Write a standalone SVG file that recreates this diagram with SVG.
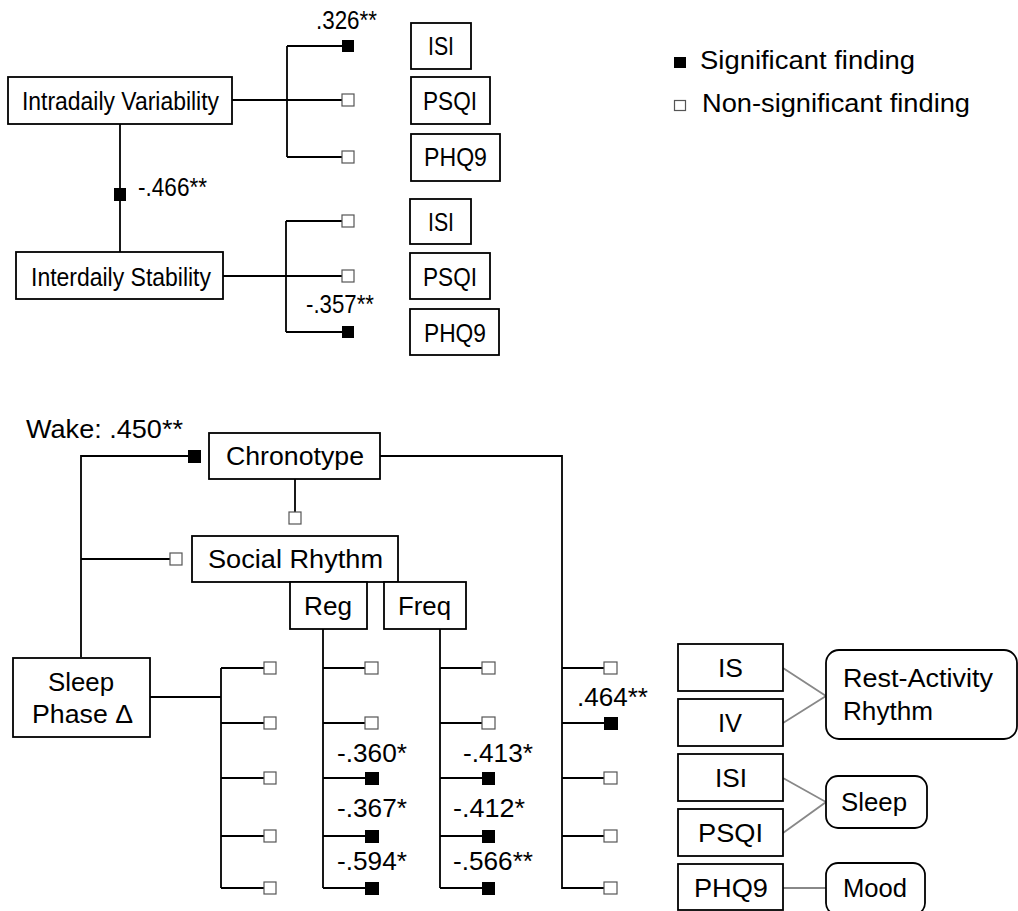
<svg xmlns="http://www.w3.org/2000/svg" width="1018" height="911" viewBox="0 0 1018 911">
<style>
text{font-family:"Liberation Sans",Arial,sans-serif;font-size:25px;fill:#000}
.box{fill:#fff;stroke:#000;stroke-width:1.8}
.rbox{fill:#fff;stroke:#000;stroke-width:1.8}
.ln{fill:none;stroke:#000;stroke-width:1.8}
.gl{fill:none;stroke:#888;stroke-width:1.8}
.sf{fill:#000;stroke:none}
.so{fill:#fff;stroke:#555;stroke-width:1.2}
</style>
<rect width="1018" height="911" fill="#fff"/>

<g id="connectors">
  <path class="ln" d="M232,100H342M287,46V157M287,46H342M287,157H342"/>
  <path class="ln" d="M120,124V252"/>
  <path class="ln" d="M223,276H342M286,221V332M286,221H342M286,332H342"/>
  <path class="ln" d="M81,657V456H188M81,559H170"/>
  <path class="ln" d="M295,479V512"/>
  <path class="ln" d="M380,456H562V888H604M562,668H604M562,723H604M562,778H604M562,836H604"/>
  <path class="ln" d="M150,697H221M221,668V888M221,668H264M221,723H264M221,778H264M221,836H264M221,888H264"/>
  <path class="ln" d="M323,629V888M323,668H365M323,723H365M323,778H365M323,836H365M323,888H365"/>
  <path class="ln" d="M440,629V888M440,668H482M440,723H482M440,778H482M440,836H482M440,888H482"/>
  <path class="gl" d="M783,668L826,696L783,723M783,778L826,802L783,833M783,888H826"/>
</g>

<g id="markers">
  <rect class="sf" x="342" y="40" width="12" height="12"/>
  <rect class="so" x="342" y="94" width="12" height="12"/>
  <rect class="so" x="342" y="151" width="12" height="12"/>
  <rect class="sf" x="114" y="188" width="12" height="13"/>
  <rect class="so" x="342" y="215" width="12" height="12"/>
  <rect class="so" x="342" y="270" width="12" height="12"/>
  <rect class="sf" x="342" y="326" width="12" height="12"/>

  <rect class="sf" x="188" y="450" width="13" height="13"/>
  <rect class="so" x="289" y="512" width="12" height="12"/>
  <rect class="so" x="170" y="553" width="12" height="12"/>

  <rect class="so" x="264" y="662" width="12" height="12"/>
  <rect class="so" x="264" y="717" width="12" height="12"/>
  <rect class="so" x="264" y="772" width="12" height="12"/>
  <rect class="so" x="264" y="830" width="12" height="12"/>
  <rect class="so" x="264" y="882" width="12" height="12"/>

  <rect class="so" x="365" y="662" width="13" height="12"/>
  <rect class="so" x="365" y="717" width="13" height="12"/>
  <rect class="sf" x="365" y="772" width="14" height="13"/>
  <rect class="sf" x="365" y="830" width="14" height="13"/>
  <rect class="sf" x="365" y="882" width="14" height="13"/>

  <rect class="so" x="482" y="662" width="13" height="12"/>
  <rect class="so" x="482" y="717" width="13" height="12"/>
  <rect class="sf" x="482" y="772" width="13" height="13"/>
  <rect class="sf" x="482" y="830" width="13" height="13"/>
  <rect class="sf" x="482" y="882" width="13" height="13"/>

  <rect class="so" x="604" y="662" width="13" height="12"/>
  <rect class="sf" x="604" y="717" width="14" height="13"/>
  <rect class="so" x="604" y="772" width="13" height="12"/>
  <rect class="so" x="604" y="830" width="13" height="12"/>
  <rect class="so" x="604" y="882" width="13" height="12"/>
</g>

<g id="labels">
  <text x="316" y="29" textLength="61" lengthAdjust="spacingAndGlyphs">.326**</text>
  <text x="138" y="196" textLength="69" lengthAdjust="spacingAndGlyphs">-.466**</text>
  <text x="306" y="313" textLength="68" lengthAdjust="spacingAndGlyphs">-.357**</text>
  <text x="26" y="438" textLength="157" lengthAdjust="spacingAndGlyphs">Wake: .450**</text>
  <text x="337" y="762" textLength="70" lengthAdjust="spacingAndGlyphs">-.360*</text>
  <text x="337" y="817" textLength="70" lengthAdjust="spacingAndGlyphs">-.367*</text>
  <text x="337" y="870" textLength="70" lengthAdjust="spacingAndGlyphs">-.594*</text>
  <text x="463" y="762" textLength="70" lengthAdjust="spacingAndGlyphs">-.413*</text>
  <text x="453" y="817" textLength="72" lengthAdjust="spacingAndGlyphs">-.412*</text>
  <text x="453" y="870" textLength="80" lengthAdjust="spacingAndGlyphs">-.566**</text>
  <text x="577" y="706" textLength="71" lengthAdjust="spacingAndGlyphs">.464**</text>
</g>

<g id="legend">
  <rect class="sf" x="674" y="57" width="12" height="11"/>
  <text x="700" y="69" textLength="215" lengthAdjust="spacingAndGlyphs">Significant finding</text>
  <rect class="so" x="674.5" y="100.5" width="11" height="10"/>
  <text x="702" y="112" textLength="268" lengthAdjust="spacingAndGlyphs">Non-significant finding</text>
</g>

<g id="node-iv">
  <rect class="box" x="8" y="77" width="224" height="47"/>
  <text x="22" y="110" textLength="197" lengthAdjust="spacingAndGlyphs">Intradaily Variability</text>
</g>
<g id="node-is">
  <rect class="box" x="16" y="252" width="207" height="47"/>
  <text x="31" y="286" textLength="180" lengthAdjust="spacingAndGlyphs">Interdaily Stability</text>
</g>
<g id="node-isi-1">
  <rect class="box" x="411" y="23" width="60" height="46"/>
  <text x="428" y="55" textLength="26" lengthAdjust="spacingAndGlyphs">ISI</text>
</g>
<g id="node-psqi-1">
  <rect class="box" x="411" y="77" width="79" height="47"/>
  <text x="423" y="110" textLength="54" lengthAdjust="spacingAndGlyphs">PSQI</text>
</g>
<g id="node-phq9-1">
  <rect class="box" x="411" y="134" width="89" height="47"/>
  <text x="424" y="166" textLength="63" lengthAdjust="spacingAndGlyphs">PHQ9</text>
</g>
<g id="node-isi-2">
  <rect class="box" x="410" y="199" width="61" height="45"/>
  <text x="428" y="231" textLength="26" lengthAdjust="spacingAndGlyphs">ISI</text>
</g>
<g id="node-psqi-2">
  <rect class="box" x="410" y="253" width="80" height="46"/>
  <text x="423" y="286" textLength="54" lengthAdjust="spacingAndGlyphs">PSQI</text>
</g>
<g id="node-phq9-2">
  <rect class="box" x="410" y="309" width="89" height="46"/>
  <text x="424" y="342" textLength="62" lengthAdjust="spacingAndGlyphs">PHQ9</text>
</g>

<g id="node-chronotype">
  <rect class="box" x="209" y="433" width="171" height="46"/>
  <text x="226" y="465" textLength="138" lengthAdjust="spacingAndGlyphs">Chronotype</text>
</g>
<g id="node-social">
  <rect class="box" x="192" y="536" width="206" height="46"/>
  <text x="208" y="568" textLength="175" lengthAdjust="spacingAndGlyphs">Social Rhythm</text>
</g>
<g id="node-reg">
  <rect class="box" x="290" y="582" width="77" height="47"/>
  <text x="304" y="615" textLength="48" lengthAdjust="spacingAndGlyphs">Reg</text>
</g>
<g id="node-freq">
  <rect class="box" x="384" y="582" width="82" height="47"/>
  <text x="398" y="615" textLength="53" lengthAdjust="spacingAndGlyphs">Freq</text>
</g>
<g id="node-sleep-phase">
  <rect class="box" x="13" y="658" width="137" height="79"/>
  <text x="48" y="691" textLength="66" lengthAdjust="spacingAndGlyphs">Sleep</text>
  <text x="32" y="723" textLength="101" lengthAdjust="spacingAndGlyphs">Phase Δ</text>
</g>

<g id="node-is-r">
  <rect class="box" x="678" y="644" width="105" height="47"/>
  <text x="718" y="677" textLength="25" lengthAdjust="spacingAndGlyphs">IS</text>
</g>
<g id="node-iv-r">
  <rect class="box" x="678" y="699" width="105" height="47"/>
  <text x="718" y="732" textLength="24" lengthAdjust="spacingAndGlyphs">IV</text>
</g>
<g id="node-isi-r">
  <rect class="box" x="678" y="754" width="105" height="47"/>
  <text x="715" y="787" textLength="32" lengthAdjust="spacingAndGlyphs">ISI</text>
</g>
<g id="node-psqi-r">
  <rect class="box" x="678" y="809" width="105" height="47"/>
  <text x="698" y="842" textLength="65" lengthAdjust="spacingAndGlyphs">PSQI</text>
</g>
<g id="node-phq9-r">
  <rect class="box" x="678" y="864" width="105" height="46"/>
  <text x="694" y="897" textLength="74" lengthAdjust="spacingAndGlyphs">PHQ9</text>
</g>
<g id="node-rest-activity">
  <rect class="rbox" x="826" y="650" width="191" height="89" rx="13"/>
  <text x="843" y="687" textLength="150" lengthAdjust="spacingAndGlyphs">Rest-Activity</text>
  <text x="843" y="720" textLength="90" lengthAdjust="spacingAndGlyphs">Rhythm</text>
</g>
<g id="node-sleep">
  <rect class="rbox" x="826" y="776" width="101" height="52" rx="12"/>
  <text x="841" y="811" textLength="66" lengthAdjust="spacingAndGlyphs">Sleep</text>
</g>
<g id="node-mood">
  <rect class="rbox" x="826" y="863" width="99" height="52" rx="12"/>
  <text x="843" y="897" textLength="64" lengthAdjust="spacingAndGlyphs">Mood</text>
</g>
</svg>
